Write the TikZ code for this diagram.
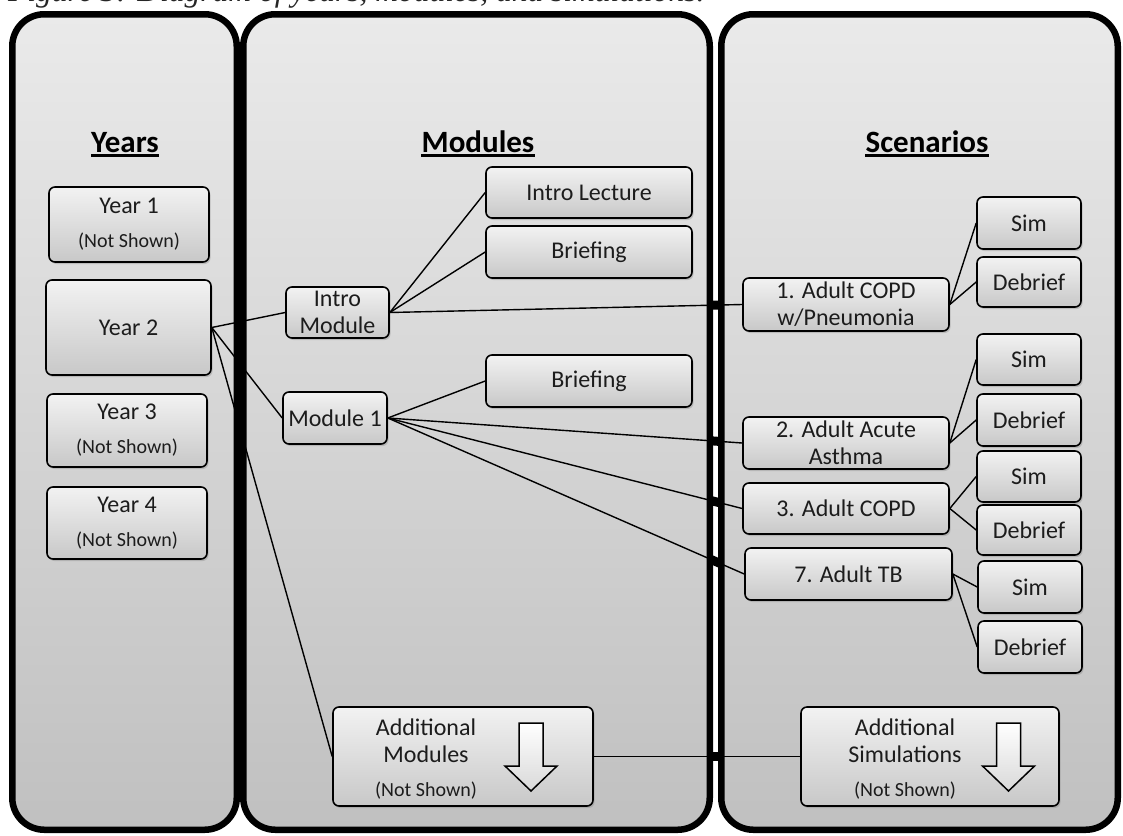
\documentclass[tikz,border=0pt]{standalone}
\usepackage{fontspec}
\setmainfont{Carlito}
\newfontfamily\capfont{Liberation Serif}
\usetikzlibrary{shadows}
\definecolor{txt}{HTML}{1C1C1C}
\definecolor{panelTop}{HTML}{EAEAEA}
\definecolor{panelBot}{HTML}{C0C0C0}
\definecolor{boxTop}{HTML}{F2F2F2}
\definecolor{boxBot}{HTML}{C8C8C8}
\tikzset{
  panel/.style={draw=black, line width=6.5pt, rounded corners=32pt, top color=panelTop, bottom color=panelBot},
  box/.style={draw=black, line width=1.6pt, rounded corners=6pt, top color=boxTop, bottom color=boxBot,
    inner sep=0pt, align=center, text=txt, font=\fontsize{24}{27}\selectfont,
    drop shadow={shadow xshift=1.5pt, shadow yshift=-2pt, opacity=0.35}},
  boxtext/.style={inner sep=0pt, align=center, text=txt, font=\fontsize{24}{27}\selectfont},
  conn/.style={draw=black, line width=1.4pt},
  blob/.style={draw=black, line width=9pt},
  hdr/.style={font=\bfseries\fontsize{31}{36}\selectfont, inner sep=0pt, anchor=base, text=black},
  uline/.style={draw=black, line width=2.5pt},
  blockarrow/.style={draw=black, line width=1.5pt, top color=white, bottom color=white!85!black, line join=miter},
}
\newcommand{\ns}{{\fontsize{20}{24}\selectfont (Not Shown)}}
\begin{document}
\begin{tikzpicture}[x=1pt,y=-1pt]
\useasboundingbox (0,0) rectangle (1123,835);
\fill[white] (0,0) rectangle (1123,835);
% cropped caption (only its lower part lies inside the picture)
\begin{scope}[overlay]
\clip (0,0) rectangle (1123,835);
\node[overlay, anchor=base west, inner sep=0pt, font=\capfont\itshape\fontsize{31.5}{32}\selectfont, text=black!85] (cap) at (8,1.5) {Figure 3: Diagram of years, modules, and simulations.};
\end{scope}
% panels
\draw[panel] (12.25,14.25) rectangle (236.75,829.75);
\draw[panel] (243.25,14.25) rectangle (709.75,829.75);
\draw[panel] (721.25,14.25) rectangle (1117.75,829.75);
% headers
\node[hdr] (hy) at (125,152) {Years};
\node[hdr] (hm) at (478,152) {Modules};
\node[hdr] (hs) at (927,152) {Scenarios};
\foreach \h in {hy,hm,hs}{
  \draw[uline] ([yshift=-3.5pt]\h.base west) -- ([yshift=-3.5pt]\h.base east);
}
% years
\node[box, minimum width=160pt, minimum height=75pt] (y1) at (129,224.5) {Year 1\\[7pt]\ns};
\node[box, minimum width=165pt, minimum height=95pt] (y2) at (128.5,327.5) {Year 2};
\node[box, minimum width=160pt, minimum height=73pt] (y3) at (127,430.5) {Year 3\\[7pt]\ns};
\node[box, minimum width=160pt, minimum height=72pt] (y4) at (127,523) {Year 4\\[7pt]\ns};
% modules
\node[box, minimum width=103pt, minimum height=51pt] (im) at (337.5,312.5) {Intro\\Module};
\node[box, minimum width=104pt, minimum height=52pt] (m1) at (335,418) {Module 1};
\node[box, minimum width=206pt, minimum height=51pt] (il) at (589,192.5) {Intro Lecture};
\node[box, minimum width=206pt, minimum height=52pt] (b1) at (589,252) {Briefing};
\node[box, minimum width=206pt, minimum height=52pt] (b2) at (589,381) {Briefing};
\node[box, minimum width=260pt, minimum height=99pt] (am) at (463,756.5) {};
\node[boxtext] (amt) at (426,759) {Additional\\Modules\\[7pt]\ns};
% scenarios
\node[box, minimum width=206pt, minimum height=53pt] (s1) at (846,304.5) {1. Adult COPD\\w/Pneumonia};
\node[box, minimum width=206pt, minimum height=52pt] (s2) at (846,443) {2. Adult Acute\\Asthma};
\node[box, minimum width=206pt, minimum height=51pt] (s3) at (846,508.5) {3. Adult COPD};
\node[box, minimum width=207pt, minimum height=52pt] (s7) at (848.5,574) {7. Adult TB};
\node[box, minimum width=104pt, minimum height=52pt] (sim1) at (1029,223) {Sim};
\node[box, minimum width=104pt, minimum height=50pt] (deb1) at (1029,282) {Debrief};
\node[box, minimum width=104pt, minimum height=51pt] (sim2) at (1029,359.5) {Sim};
\node[box, minimum width=104pt, minimum height=52pt] (deb2) at (1029,420) {Debrief};
\node[box, minimum width=104pt, minimum height=51pt] (sim3) at (1029,476.5) {Sim};
\node[box, minimum width=104pt, minimum height=50pt] (deb3) at (1029,530) {Debrief};
\node[box, minimum width=104pt, minimum height=52pt] (sim4) at (1030,587) {Sim};
\node[box, minimum width=104pt, minimum height=52pt] (deb4) at (1030,647) {Debrief};
\node[box, minimum width=258pt, minimum height=99pt] (as) at (930,756.5) {};
\node[boxtext] (ast) at (905,759) {Additional\\Simulations\\[7pt]\ns};
% block arrows
\coordinate (amA) at ([xshift=68pt]am.center);
\coordinate (asA) at ([xshift=78.5pt]as.center);
\foreach \c in {amA,asA}{
  \draw[blockarrow] ([shift={(-12,-33.5)}]\c) -- ([shift={(12,-33.5)}]\c) -- ([shift={(12,9.5)}]\c)
    -- ([shift={(26,9.5)}]\c) -- ([shift={(0,34.5)}]\c) -- ([shift={(-26,9.5)}]\c)
    -- ([shift={(-12,9.5)}]\c) -- cycle;
}
% connectors
\draw[conn] (y2.east) -- (im.west);
\draw[conn] (y2.east) -- (m1.west);
\draw[conn] (y2.east) -- (am.west);
\draw[conn] (im.east) -- (il.west);
\draw[conn] (im.east) -- (b1.west);
\draw[conn] (im.east) -- (s1.west);
\draw[conn] (m1.east) -- (b2.west);
\draw[conn] (m1.east) -- (s2.west);
\draw[conn] (m1.east) -- (s3.west);
\draw[conn] (m1.east) -- (s7.west);
\draw[conn] (am.east) -- (as.west);
\draw[conn] (s1.east) -- (sim1.west);
\draw[conn] (s1.east) -- (deb1.west);
\draw[conn] (s2.east) -- (sim2.west);
\draw[conn] (s2.east) -- (deb2.west);
\draw[conn] (s3.east) -- (sim3.west);
\draw[conn] (s3.east) -- (deb3.west);
\draw[conn] (s7.east) -- (sim4.west);
\draw[conn] (s7.east) -- (deb4.west);
% crossings through the gap between panels
\begin{scope}
\clip (712.5,0) rectangle (718.5,835);
\draw[blob] (im.east) -- (s1.west);
\draw[blob] (m1.east) -- (s2.west);
\draw[blob] (m1.east) -- (s3.west);
\draw[blob] (m1.east) -- (s7.west);
\draw[blob] (am.east) -- (as.west);
\end{scope}
\end{tikzpicture}
\end{document}
